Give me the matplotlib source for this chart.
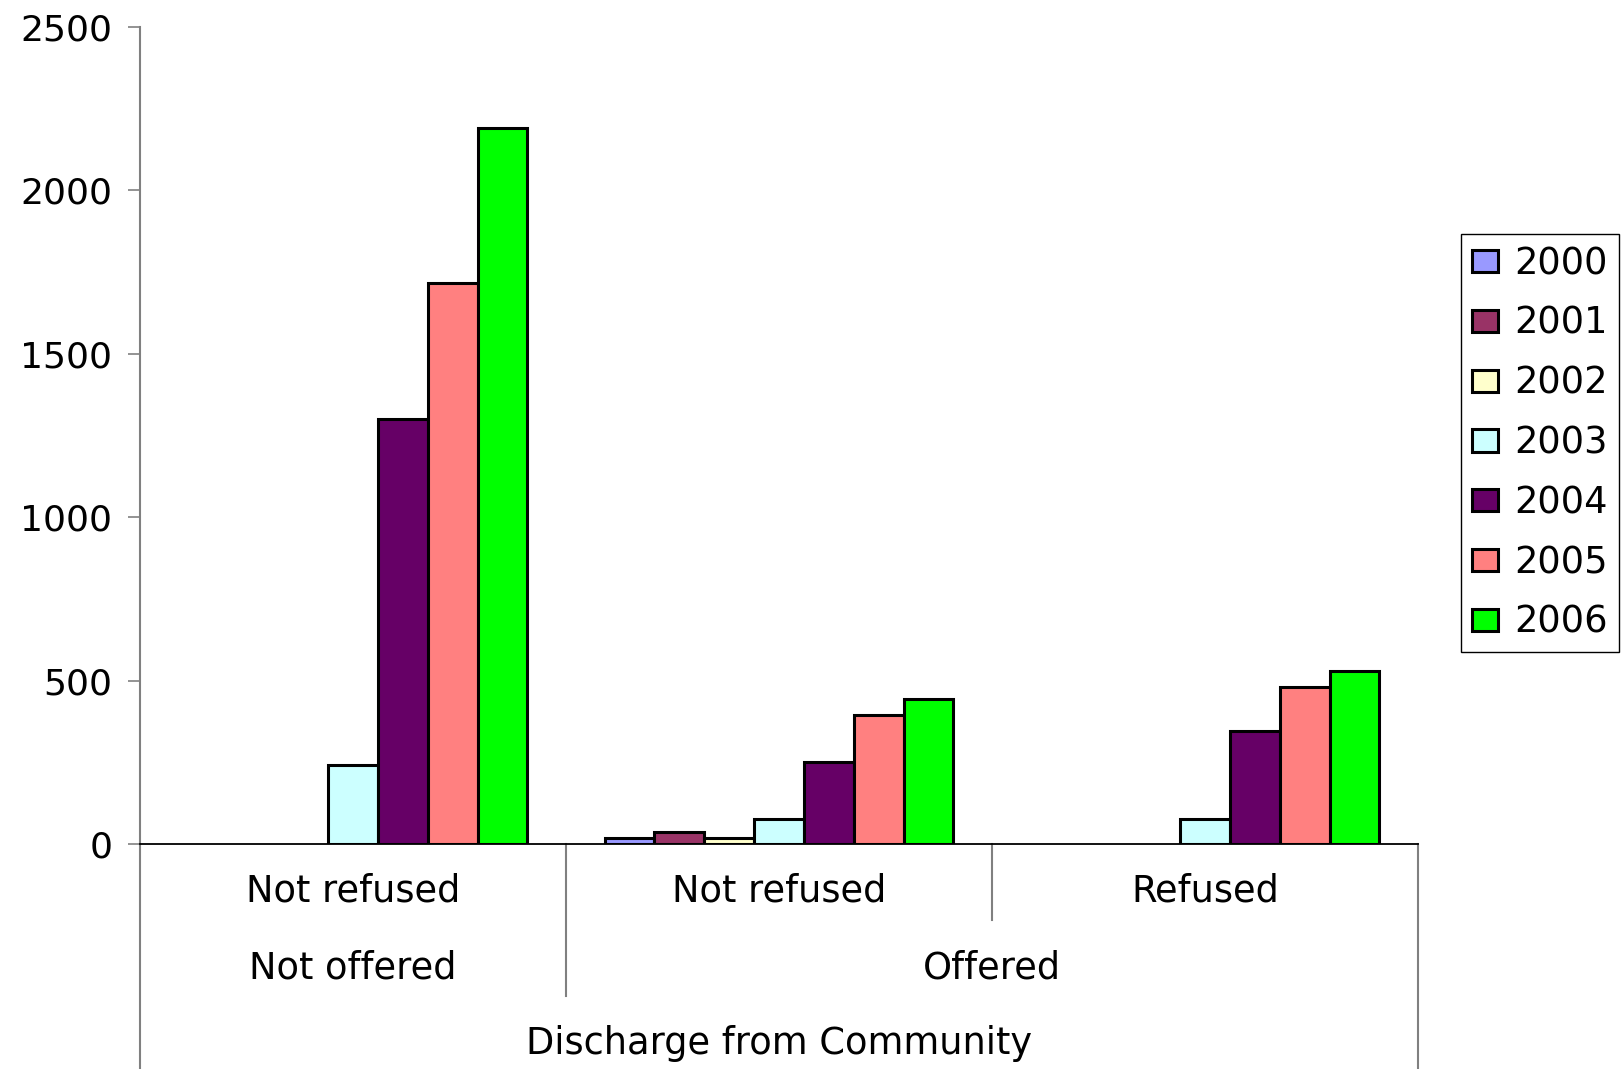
import matplotlib.pyplot as plt
import numpy as np

years = ['2000', '2001', '2002', '2003', '2004', '2005', '2006']
colores = ['#9999FF', '#993366', '#FFFFCC', '#CCFFFF', '#660066', '#FF8080', '#00FF00']

# one list per category, values per year
not_offered_not_refused = [0, 0, 0, 241, 1302, 1718, 2191]
offered_not_refused = [18, 38, 19, 78, 250, 396, 443]
offered_refused = [0, 0, 0, 75, 347, 480, 528]

sub_labels = ['Not refused', 'Not refused', 'Refused']
top_labels = ['Not offered', 'Offered']
axis_title = 'Discharge from Community'

valores = np.array([not_offered_not_refused, offered_not_refused, offered_refused])

fig = plt.figure(figsize=(16.24, 10.69), dpi=100)
ax = fig.add_axes([140 / 1624, 1 - 844 / 1069, (1418 - 140) / 1624, (844 - 27) / 1069])

n = len(years)
ancho = 0.117
x = np.arange(len(sub_labels))
for i in range(n):
    h = valores[:, i].astype(float)
    h = np.where(h > 0, h, np.nan)
    ax.bar(x + (i - (n - 1) / 2) * ancho, h, width=ancho, color=colores[i],
           edgecolor='black', linewidth=2.2, label=years[i])

ax.set_xlim(-0.5, 2.5)
ax.set_ylim(0, 2500)
ax.set_yticks(np.arange(0, 2501, 500))
ax.tick_params(axis='y', labelsize=26, length=9, width=1.2, color='#808080', pad=11)
ax.set_xticks([])
for s in ['top', 'right']:
    ax.spines[s].set_visible(False)
ax.spines['left'].set_color('#808080')
ax.spines['left'].set_linewidth(1.5)
ax.spines['bottom'].set_color('black')
ax.spines['bottom'].set_linewidth(1.3)

# category table below the axis
tr = ax.get_xaxis_transform()
fondo = -0.28
ax.plot([-0.5, -0.5], [0, fondo], transform=tr, color='#808080', lw=1.5, clip_on=False)
ax.plot([2.5, 2.5], [0, fondo], transform=tr, color='#808080', lw=1.5, clip_on=False)
ax.plot([0.5, 0.5], [0, -0.186], transform=tr, color='#808080', lw=1.5, clip_on=False)
ax.plot([1.5, 1.5], [0, -0.093], transform=tr, color='#808080', lw=1.5, clip_on=False)

fs = 26.5
for xi, lab in zip(x, sub_labels):
    ax.text(xi, -0.058, lab, transform=tr, ha='center', va='center', fontsize=fs)
ax.text(0, -0.152, top_labels[0], transform=tr, ha='center', va='center', fontsize=fs)
ax.text(1.5, -0.152, top_labels[1], transform=tr, ha='center', va='center', fontsize=fs)
ax.text(1, -0.244, axis_title, transform=tr, ha='center', va='center', fontsize=fs)

leg = fig.legend(loc='upper left', bbox_to_anchor=(1461 / 1624, 1 - 234 / 1069),
                 fontsize=26.5, handlelength=0.7, handleheight=0.55, handletextpad=0.45,
                 borderpad=0.3, labelspacing=0.62, fancybox=False, framealpha=1,
                 borderaxespad=0)
leg.get_frame().set_edgecolor('black')
leg.get_frame().set_linewidth(1.0)

fig.savefig('out.png', dpi=100)
